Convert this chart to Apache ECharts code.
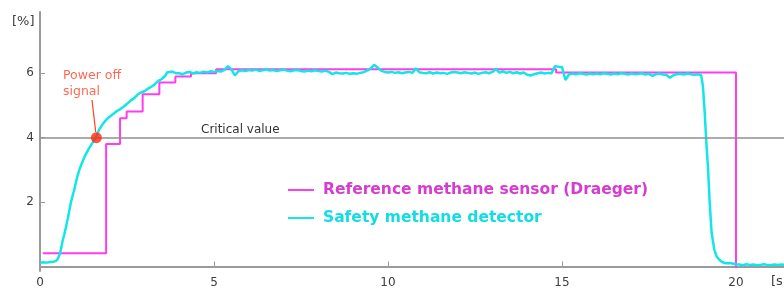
<!DOCTYPE html>
<html>
<head>
<meta charset="utf-8">
<script src="https://cdn.jsdelivr.net/npm/echarts@6/dist/echarts.min.js"></script>
<style>
html,body{margin:0;padding:0;background:#fff;}
#chart{width:784px;height:291px;}
</style>
</head>
<body>
<div id="chart"></div>
<script>
// ---- data ----
var xTicks = [0, 5, 10, 15, 20];
var yTicks = [2, 4, 6];
var criticalValue = 4;
var powerOff = [1.62, 4.0];

// Reference methane sensor (Draeger): step times and held values
var refTimes  = [0.08, 1.90, 2.30, 2.49, 2.95, 3.43, 3.89, 4.34, 5.06, 14.83, 20.0];
var refValues = [0.41, 3.80, 4.60, 4.81, 5.35, 5.71, 5.90, 6.00, 6.12, 6.02, -0.05];

// Safety methane detector: rise
var detRiseT = [0.0, 0.1, 0.2, 0.3, 0.4, 0.47, 0.52, 0.58, 0.65, 0.7, 0.8, 0.89, 0.95, 1.0, 1.05, 1.13, 1.2, 1.3, 1.4, 1.5, 1.62, 1.7, 1.8, 1.9, 2.0, 2.1, 2.2, 2.3, 2.4, 2.5, 2.6, 2.7, 2.8, 2.9, 3.0, 3.1, 3.2, 3.3, 3.4, 3.5, 3.6, 3.65, 3.7, 3.8, 3.9];
var detRiseV = [0.12, 0.13, 0.12, 0.14, 0.15, 0.18, 0.26, 0.42, 0.8, 1.0, 1.5, 2.0, 2.25, 2.45, 2.7, 3.0, 3.2, 3.45, 3.65, 3.82, 4.03, 4.25, 4.42, 4.55, 4.65, 4.73, 4.82, 4.88, 4.96, 5.05, 5.15, 5.22, 5.33, 5.40, 5.44, 5.52, 5.58, 5.66, 5.76, 5.82, 5.92, 6.02, 5.98, 6.05, 6.00];

// plateau, every 0.1 s from 4.0 s to 19.0 s
var detPlateauStart = 4.0;
var detPlateauV = [
  6.00, 5.97, 6.02, 6.04, 5.99, 6.03, 6.01, 6.05, 6.02, 6.06,
  6.04, 6.07, 6.05, 6.10, 6.22, 6.12, 5.93, 6.06, 6.09, 6.07,
  6.10, 6.08, 6.11, 6.07, 6.09, 6.12, 6.08, 6.10, 6.07, 6.09,
  6.11, 6.08, 6.06, 6.09, 6.10, 6.07, 6.05, 6.08, 6.06, 6.09,
  6.07, 6.05, 6.08, 6.04, 5.97, 6.02, 6.00, 5.99, 6.01, 5.98,
  6.00, 5.98, 6.01, 6.03, 6.08, 6.14, 6.26, 6.18, 6.08, 6.04,
  6.02, 6.04, 6.01, 6.03, 6.00, 6.02, 6.04, 6.01, 6.15, 6.03,
  6.01, 6.00, 6.03, 5.99, 6.02, 6.00, 6.01, 5.98, 6.02, 6.04,
  6.02, 6.00, 6.03, 6.01, 5.99, 6.02, 5.98, 6.01, 6.03, 6.00,
  6.04, 6.13, 6.02, 6.06, 6.01, 6.04, 6.00, 6.03, 5.99, 6.02,
  5.95, 5.93, 5.97, 6.00, 6.02, 5.99, 6.01, 6.00, 6.22, 6.20,
  6.19, 5.79, 5.96, 5.99, 5.97, 6.00, 5.98, 5.96, 5.99, 5.97,
  5.99, 5.97, 6.00, 5.98, 5.96, 5.99, 5.97, 6.00, 5.98, 5.96,
  5.99, 5.97, 5.98, 6.00, 5.96, 5.98, 5.92, 5.97, 5.99, 5.96,
  5.95, 5.86, 5.94, 5.97, 5.98, 5.96, 5.99, 5.97, 5.95, 5.97,
  5.94
];

// fall and tail
var detFallT = [19.05, 19.1, 19.14, 19.2, 19.24, 19.3, 19.38, 19.45, 19.53, 19.6, 19.7, 19.8, 19.9, 20.0, 20.1, 20.2, 20.3, 20.4, 20.5, 20.6, 20.7, 20.8, 20.9, 21.0, 21.1, 21.2, 21.3, 21.4];
var detFallV = [5.6, 4.8, 4.0, 3.0, 2.07, 1.04, 0.51, 0.3, 0.2, 0.14, 0.1, 0.11, 0.09, 0.07, 0.06, 0.04, 0.07, 0.05, 0.06, 0.04, 0.05, 0.07, 0.05, 0.04, 0.06, 0.05, 0.06, 0.05];

// ---- build ----
function zip(t, v) { return t.map(function (x, i) { return [x, v[i]]; }); }
var refData = zip(refTimes, refValues);
var detData = zip(detRiseT, detRiseV)
  .concat(detPlateauV.map(function (v, i) { return [Math.round((detPlateauStart + i * 0.1) * 100) / 100, v]; }))
  .concat(zip(detFallT, detFallV));

var MAG = '#ff3cf0', CYA = '#12e6e8', AX = '#9a9a9a', TXT = '#3d3d3d';
var FONT = 'DejaVu Sans';

var chart = echarts.init(document.getElementById('chart'));
chart.setOption({
  animation: false,
  backgroundColor: '#fff',
  textStyle: { fontFamily: FONT },
  grid: { left: 40, right: 0, top: 12, bottom: 20 },
  xAxis: {
    type: 'value', min: 0, max: 21.38,
    axisLine: { lineStyle: { color: AX, width: 2 } },
    axisTick: { inside: true, length: 5, customValues: xTicks, lineStyle: { color: AX, width: 1 } },
    axisLabel: { customValues: xTicks, color: TXT, fontSize: 12, fontFamily: FONT, margin: 6 },
    splitLine: { show: false }
  },
  yAxis: {
    type: 'value', min: -0.14, max: 7.9,
    axisLine: { show: true, lineStyle: { color: AX, width: 2 } },
    axisTick: { show: true, inside: true, length: 5, customValues: yTicks, lineStyle: { color: AX, width: 1 } },
    axisLabel: { customValues: yTicks, color: TXT, fontSize: 12, fontFamily: FONT, margin: 6 },
    splitLine: { show: false }
  },
  legend: {
    orient: 'vertical', left: 282, top: 177,
    itemWidth: 26, itemHeight: 16, itemGap: 12,
    itemStyle: { opacity: 0 },
    data: [
      { name: 'Reference methane sensor (Draeger)', textStyle: { color: '#d63ccf' } },
      { name: 'Safety methane detector', textStyle: { color: '#14dde2' } }
    ],
    textStyle: { fontFamily: FONT, fontWeight: 'bold', fontSize: 15.5, padding: [0, 0, 0, 4] }
  },
  graphic: [
    { type: 'text', left: 12, top: 15, style: { text: '[%]', font: '13px "DejaVu Sans"', fill: TXT } },
    { type: 'text', left: 771, top: 275, style: { text: '[s]', font: '13px "DejaVu Sans"', fill: TXT } },
    { type: 'text', left: 201, top: 124, style: { text: 'Critical value', font: '12px "DejaVu Sans"', fill: '#333' } }
  ],
  series: [
    {
      name: 'Reference methane sensor (Draeger)', type: 'line', step: 'end',
      data: refData, symbol: 'none', z: 3,
      lineStyle: { color: MAG, width: 2 }, itemStyle: { color: MAG },
      markLine: {
        silent: true, symbol: 'none', label: { show: false },
        lineStyle: { color: '#8f8f8f', width: 1.5, type: 'solid' },
        data: [{ yAxis: criticalValue }]
      }
    },
    {
      name: 'Safety methane detector', type: 'line',
      data: detData, symbol: 'none', z: 4,
      lineStyle: { color: CYA, width: 2.5 }, itemStyle: { color: CYA }
    },
    {
      name: 'Power off', type: 'scatter', z: 6,
      data: [powerOff], symbolSize: 11,
      itemStyle: { color: '#ff2a0e' },
      label: {
        show: true, formatter: 'Power off\nsignal', color: '#ff4326',
        fontFamily: FONT, fontSize: 12.5, lineHeight: 16, align: 'left'
      },
      labelLayout: { x: 63, y: 68, align: 'left', verticalAlign: 'top' },
      labelLine: { show: true, lineStyle: { color: '#ff4326', width: 1.2 } }
    }
  ]
});
</script>
</body>
</html>
